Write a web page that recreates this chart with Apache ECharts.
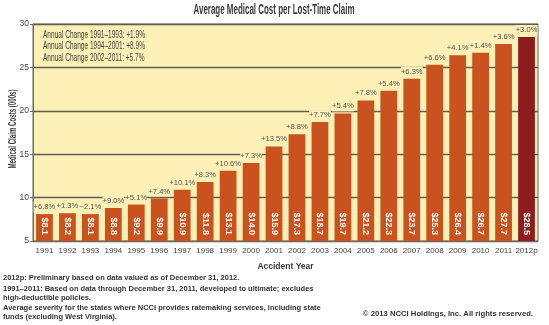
<!DOCTYPE html>
<html><head><meta charset="utf-8">
<script src="https://cdn.jsdelivr.net/npm/echarts@6/dist/echarts.min.js"></script>
<style>html,body{margin:0;padding:0;background:#fff}#c{width:549px;height:325px}</style>
</head><body><div id="c"></div>
<script>
const years = ['1991','1992','1993','1994','1995','1996','1997','1998','1999','2000','2001','2002','2003','2004','2005','2006','2007','2008','2009','2010','2011','2012p'];
const costs = [8.1,8.2,8.1,8.8,9.2,9.9,10.9,11.8,13.1,14.0,15.9,17.3,18.7,19.7,21.2,22.3,23.7,25.3,26.4,26.7,27.7,28.5];
const changes = ['+6.8%','+1.3%','\u22122.1%','+9.0%','+5.1%','+7.4%','+10.1%','+8.3%','+10.6%','+7.3%','+13.5%','+8.8%','+7.7%','+5.4%','+7.8%','+5.4%','+6.3%','+6.6%','+4.1%','+1.4%','+3.6%','+3.0%'];
const yTicks = [5,10,15,20,25,30];
const notes = ['Annual Change 1991\u20131993: +1.9%','Annual Change 1994\u20132001: +8.9%','Annual Change 2002\u20132011: +5.7%'];
const titleText = 'Average Medical Cost per Lost-Time Claim';
const yName = 'Medical Claim Costs (000s)';

const NARROW = '"Liberation Sans Narrow"';
const CF = NARROW + ',"Liberation Sans",sans-serif';
const FF = '"Liberation Sans",Arial,sans-serif';
const ctx = document.createElement('canvas').getContext('2d');
function fit(text, font, target){ ctx.font = font; return target/ctx.measureText(text).width; }
const titleFont = 'bold 14px ' + CF;
const noteFont = '10px ' + CF;
const yNameFont = 'bold 10px ' + CF;
const titleScale = fit(titleText, titleFont, 161);
const noteScale = fit(notes[0], noteFont, 102);
const yNameScale = fit(yName, yNameFont, 79);
const bg = '#FDF0B6';

const chart = echarts.init(document.getElementById('c'), null, {renderer:'canvas'});
chart.setOption({
  animation:false,
  grid:{left:33,right:11,top:24,bottom:84,show:true,backgroundColor:bg,borderColor:'#6a6a5e',borderWidth:1},
  xAxis:{type:'category',data:years,
    axisLine:{show:true,lineStyle:{color:'#6a6a5e'}},axisTick:{show:false},
    axisLabel:{color:'#444',fontSize:8,fontFamily:CF,margin:6,interval:0},
    name:'Accident Year',nameLocation:'middle',nameGap:21,
    nameTextStyle:{color:'#3a3a3a',fontFamily:CF,fontSize:8.5,fontWeight:'bold'}},
  yAxis:{type:'value',min:5,max:30,interval:5,
    axisLine:{show:true,lineStyle:{color:'#6a6a5e'}},axisTick:{show:true,length:3,lineStyle:{color:'#6a6a5e'}},
    axisLabel:{color:'#444',fontSize:8.5,fontFamily:CF,margin:4},
    splitLine:{show:true,lineStyle:{color:'#5e5d50',width:1.3}}},
  series:[{type:'bar',barCategoryGap:'27%',
    data:costs.map((v,i)=>({value:v,itemStyle:{color:i===costs.length-1?'#8E1C1E':'#C9521F'}})),
    label:{show:true,position:'insideBottom',rotate:-90,align:'right',verticalAlign:'middle',distance:6,
      formatter:p=>'$'+p.value.toFixed(1),color:'#fff',fontSize:9,fontWeight:'bold',fontFamily:CF}
  },{type:'bar',barGap:'-100%',barCategoryGap:'27%',
    data:costs,itemStyle:{color:'transparent'},silent:true,z:3,
    label:{show:true,position:'top',distance:2,formatter:p=>changes[p.dataIndex],color:'#555',fontSize:7.6,fontFamily:CF,
      backgroundColor:bg,padding:[1,0,1,0]}
  }],
  graphic:[
    {type:'text',x:274,y:3,scaleX:titleScale,style:{text:titleText,textAlign:'center',font:titleFont,fill:'#3a3a3a'}},
    {type:'text',x:13,y:129,rotation:Math.PI/2,scaleX:yNameScale,style:{text:yName,textAlign:'center',textVerticalAlign:'middle',font:yNameFont,fill:'#3a3a3a'}},
    ...notes.map((t,i)=>({type:'text',x:43,y:30+i*11.5,scaleX:noteScale,style:{text:t,font:noteFont,fill:'#444'}})),
    {type:'text',left:3,top:274,style:{text:'2012p: Preliminary based on data valued as of December 31, 2012.',fontSize:7.5,fontWeight:'bold',fontFamily:FF,fill:'#333'}},
    {type:'text',left:3,top:285,style:{text:'1991\u20132011: Based on data through December 31, 2011, developed to ultimate; excludes\nhigh-deductible policies.',lineHeight:8.5,fontSize:7.5,fontWeight:'bold',fontFamily:FF,fill:'#333'}},
    {type:'text',left:3,top:304,style:{text:'Average severity for the states where NCCI provides ratemaking services, including state\nfunds (excluding West Virginia).',lineHeight:8.5,fontSize:7.5,fontWeight:'bold',fontFamily:FF,fill:'#333'}},
    {type:'text',right:16,top:310,style:{text:'\u00A9 2013 NCCI Holdings, Inc. All rights reserved.',fontSize:7.7,fontWeight:'bold',fontFamily:FF,fill:'#333'}}
  ]
});
</script></body></html>
